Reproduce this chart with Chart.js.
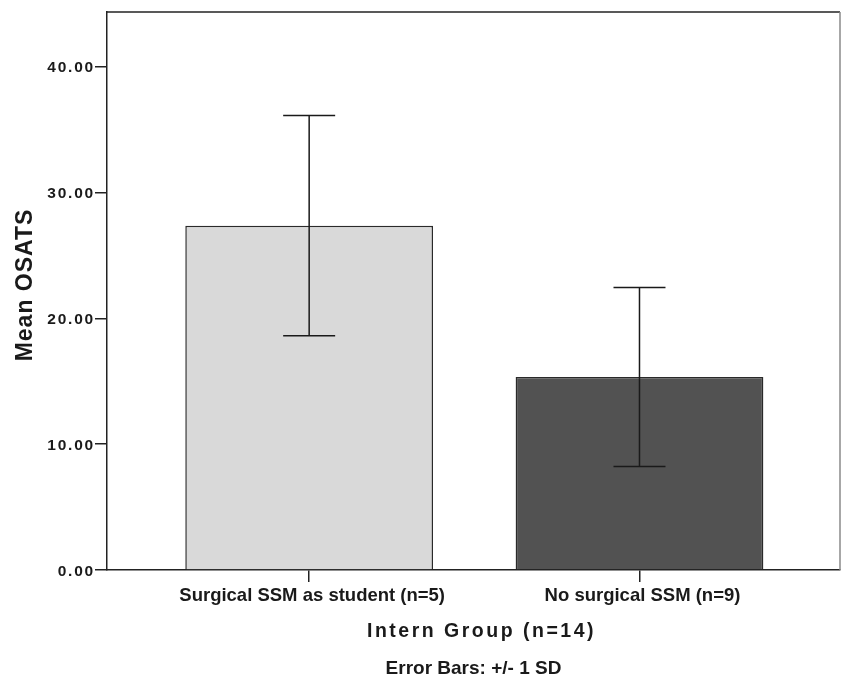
<!DOCTYPE html>
<html><head><meta charset="utf-8">
<script src="https://cdn.jsdelivr.net/npm/chart.js@4.4.1/dist/chart.umd.min.js"></script>
<style>html,body{margin:0;padding:0;background:#fff;} #wrap{width:842px;height:678px;position:relative;}</style>
</head><body><div id="wrap"><canvas id="c" width="842" height="678"></canvas></div>
<script>
const categories = ['Surgical SSM as student (n=5)', 'No surgical SSM (n=9)'];
const meanOSATS = [27.38, 15.35];
const sdOSATS = [8.76, 7.12];
const yTickValues = [0, 10, 20, 30, 40];
const yTickLabels = ['0.00', '10.00', '20.00', '30.00', '40.00'];
const barColors = ['#d9d9d9', '#525252'];
const yTitle = 'Mean OSATS';
const xTitle = 'Intern Group (n=14)';
const footnote = 'Error Bars: +/- 1 SD';

const FONT = "'Liberation Sans', Arial, Helvetica, sans-serif";
const INK = '#1a1a1a';

const annot = {
  id: 'annot',
  afterDatasetsDraw(chart) {
    const ctx = chart.ctx, xs = chart.scales.x, ys = chart.scales.y, ca = chart.chartArea;
    ctx.save();
    ctx.strokeStyle = INK; ctx.lineWidth = 1.5;
    meanOSATS.forEach((m, i) => {
      const x = xs.getPixelForValue(i);
      const yt = ys.getPixelForValue(m + sdOSATS[i]);
      const yb = ys.getPixelForValue(m - sdOSATS[i]);
      ctx.beginPath();
      ctx.moveTo(x, yt); ctx.lineTo(x, yb);
      ctx.moveTo(x - 26, yt); ctx.lineTo(x + 26, yt);
      ctx.moveTo(x - 26, yb); ctx.lineTo(x + 26, yb);
      ctx.stroke();
    });
    ctx.beginPath();
    ctx.strokeStyle = '#222'; ctx.lineWidth = 1.5;
    ctx.moveTo(ca.left, ca.top); ctx.lineTo(ca.right, ca.top);
    ctx.stroke();
    ctx.beginPath();
    ctx.strokeStyle = '#8a8a8a'; ctx.lineWidth = 1.5;
    ctx.moveTo(ca.right, ca.top); ctx.lineTo(ca.right, ca.bottom);
    ctx.stroke();
    ctx.restore();
  },
  afterDraw(chart) {
    const ctx = chart.ctx, ys = chart.scales.y, ca = chart.chartArea;
    ctx.save();
    ctx.fillStyle = INK;
    ctx.font = `bold 15.5px ${FONT}`;
    ctx.letterSpacing = '1.8px';
    ctx.textAlign = 'right';
    ctx.textBaseline = 'alphabetic';
    yTickValues.forEach((v, i) => {
      const y = ys.getPixelForValue(v);
      ctx.fillText(yTickLabels[i], ca.left - 12, y + 5.5);
    });
    ctx.save();
    ctx.font = `bold 23px ${FONT}`;
    ctx.letterSpacing = '1px';
    ctx.textAlign = 'center';
    ctx.translate(32, (ca.top + ca.bottom) / 2 - 6);
    ctx.rotate(-Math.PI / 2);
    ctx.fillText(yTitle, 0, 0);
    ctx.restore();
    ctx.font = `bold 19.5px ${FONT}`;
    ctx.letterSpacing = '2.5px';
    ctx.textAlign = 'center';
    ctx.fillText(xTitle, (ca.left + ca.right) / 2 + 8, 637);
    ctx.font = `bold 19px ${FONT}`;
    ctx.letterSpacing = '0px';
    ctx.fillText(footnote, (ca.left + ca.right) / 2, 674);
    ctx.restore();
  }
};

new Chart(document.getElementById('c'), {
  type: 'bar',
  data: {
    datasets: [{
      data: meanOSATS.map((m, i) => ({ x: i, y: m })),
      backgroundColor: barColors,
      borderColor: '#2a2a2a',
      borderWidth: 1.5,
      barPercentage: 0.75,
      categoryPercentage: 1.0
    }]
  },
  options: {
    responsive: false,
    animation: false,
    devicePixelRatio: 1,
    layout: { padding: { top: 12, right: 2, left: 0, bottom: 0 } },
    plugins: { legend: { display: false }, tooltip: { enabled: false } },
    scales: {
      x: {
        type: 'linear',
        min: -0.612, max: 1.607,
        offset: false,
        afterBuildTicks: s => { s.ticks = categories.map((_, i) => ({ value: i })); },
        afterFit: s => { s.height = 108; },
        grid: { offset: false, drawOnChartArea: false, drawTicks: true, tickLength: 12, color: '#222', lineWidth: 1.5 },
        border: { display: true, color: '#222', width: 1.5 },
        ticks: {
          callback: v => categories[v],
          font: { family: FONT, size: 18.5, weight: 'bold' },
          color: INK, padding: 3, maxRotation: 0, autoSkip: false, labelOffset: 3
        }
      },
      y: {
        type: 'linear',
        min: 0, max: 44.37,
        afterBuildTicks: s => { s.ticks = yTickValues.map(v => ({ value: v })); },
        afterFit: s => { s.width = 107; },
        ticks: { display: false },
        grid: { drawOnChartArea: false, drawTicks: true, tickLength: 12, color: '#222', lineWidth: 1.5 },
        border: { display: true, color: '#222', width: 1.5 }
      }
    }
  },
  plugins: [annot]
});
</script>
</body></html>
